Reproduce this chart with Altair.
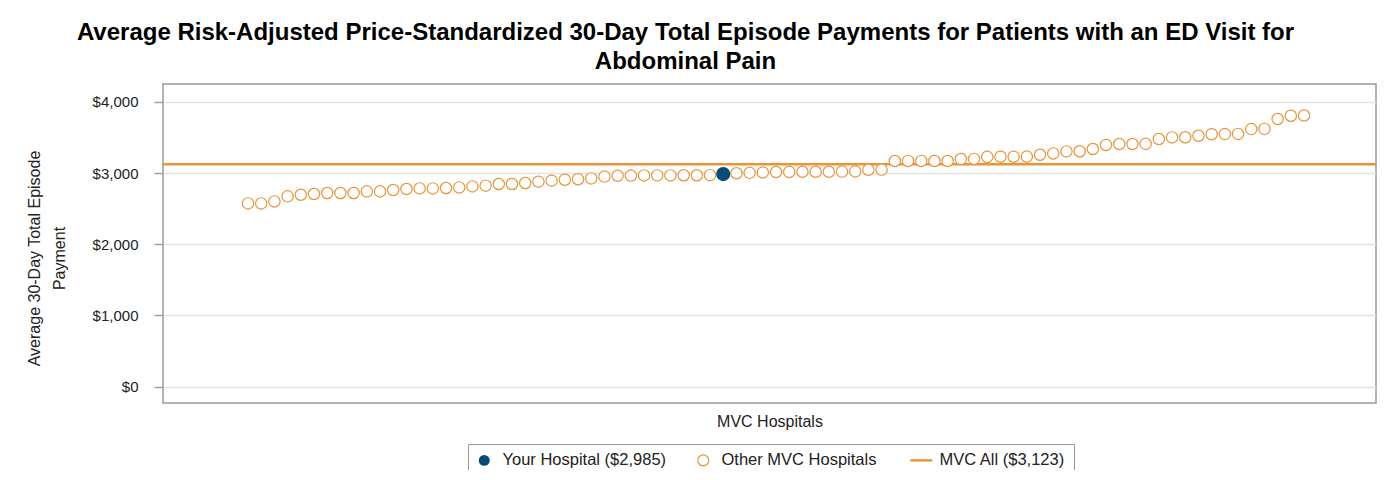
import altair as alt
import pandas as pd

title_lines = [
    "Average Risk-Adjusted Price-Standardized 30-Day Total Episode Payments for Patients with an ED Visit for",
    "Abdominal Pain",
]
y_title = ["Average 30-Day Total Episode", "Payment"]
x_title = "MVC Hospitals"
series_names = ["Your Hospital ($2,985)", "Other MVC Hospitals", "MVC All ($3,123)"]
y_ticks = [0, 1000, 2000, 3000, 4000]

other_values = [
    2573, 2573, 2601, 2672, 2695, 2705, 2719, 2719, 2719, 2742,
    2742, 2761, 2775, 2784, 2784, 2789, 2798, 2812, 2822, 2846,
    2846, 2860, 2878, 2892, 2906, 2913, 2924, 2950,
    2962, 2964, 2966, 2966, 2966, 2968, 2968, 2970,
    2996, 3002, 3008,
    3014, 3016, 3018, 3018, 3018, 3020, 3022,
    3046, 3048,
    3168, 3170, 3170, 3168, 3168,
    3196, 3198,
    3227, 3229, 3229, 3231,
    3257, 3275, 3303, 3305, 3337, 3394,
    3407, 3407, 3409,
    3477, 3500, 3502, 3523, 3545, 3547, 3549,
    3617, 3619, 3758, 3804, 3807,
]
your_value = 2985
your_rank = 37
mvc_all = 3123

BLUE = "#0a4a78"
ORANGE = "#e8953a"
FONT = "Liberation Sans"

rows = []
it = iter(other_values)
for i in range(1, len(other_values) + 2):
    if i == your_rank:
        rows.append({"rank": i, "payment": your_value, "series": series_names[0]})
    else:
        rows.append({"rank": i, "payment": next(it), "series": series_names[1]})
df = pd.DataFrame(rows)
line_df = pd.DataFrame({"payment": [mvc_all], "series": [series_names[2]]})

legend = alt.Legend(title=None, orient="none", legendX=305, legendY=360, direction="horizontal")
stroke_enc = alt.Stroke("series:N", scale=alt.Scale(domain=series_names, range=[BLUE, ORANGE, ORANGE]), legend=legend)
fill_enc = alt.Fill("series:N", scale=alt.Scale(domain=series_names, range=[BLUE, "white", ORANGE]), legend=legend)
shape_enc = alt.Shape("series:N", scale=alt.Scale(domain=series_names, range=["circle", "circle", "M-2,0L2,0"]), legend=legend)
sw_enc = alt.StrokeWidth("series:N", scale=alt.Scale(domain=series_names, range=[0, 2.4, 4]), legend=legend)

x_enc = alt.X(
    "rank:Q",
    scale=alt.Scale(domain=[-5.44, 86.45], nice=False, zero=False),
    axis=alt.Axis(title=x_title, labels=False, ticks=False, grid=False, domain=False,
                  titlePadding=10, titleFontSize=16, titleFontWeight="normal",
                  titleFont=FONT, titleColor="#222222"),
)
y_enc = alt.Y(
    "payment:Q",
    scale=alt.Scale(domain=[-230, 4250], nice=False, zero=False),
    axis=alt.Axis(values=y_ticks, format="$,.0f", title=y_title, domain=False,
                  tickSize=9, tickColor="#a0a0a0", tickWidth=1.5, labelPadding=16,
                  labelFontSize=15, labelFont=FONT, labelColor="#222222",
                  gridColor="#e2e2e2", gridWidth=1.5,
                  titleFontSize=16, titleFontWeight="normal", titleFont=FONT,
                  titleColor="#222222", titleLineHeight=25, titlePadding=25, titleY=174),
)

rule = alt.Chart(line_df).mark_rule().encode(y=y_enc, stroke=stroke_enc, strokeWidth=sw_enc)
others = alt.Chart(df).transform_filter(alt.datum.series == series_names[1]).mark_point(
    size=128, opacity=1).encode(x=x_enc, y=y_enc, stroke=stroke_enc, fill=fill_enc,
                                  shape=shape_enc, strokeWidth=sw_enc)
yours = alt.Chart(df).transform_filter(alt.datum.series == series_names[0]).mark_point(
    size=200, opacity=1).encode(x=x_enc, y=y_enc, stroke=stroke_enc, fill=fill_enc,
                                  shape=shape_enc, strokeWidth=sw_enc)

chart = alt.layer(rule, others, yours).properties(
    width=1213, height=319,
    title=alt.TitleParams(text=title_lines, fontSize=24, fontWeight="bold", font=FONT,
                          color="#000000", lineHeight=29, anchor="middle", dx=-84, offset=10),
    padding={"left": 155, "top": 76, "right": 6, "bottom": 67},
    autosize=alt.AutoSizeParams(type="none"),
).configure_view(
    stroke="#999999", strokeWidth=1.5
).configure_legend(
    strokeColor="#9a9a9a", padding=8, labelFontSize=16.5, labelFont=FONT,
    labelColor="#222222", labelLimit=400, columnPadding=28, labelOffset=10,
    symbolSize=120,
)

chart.save("out.html", embed_options={"renderer": "svg", "actions": False})
